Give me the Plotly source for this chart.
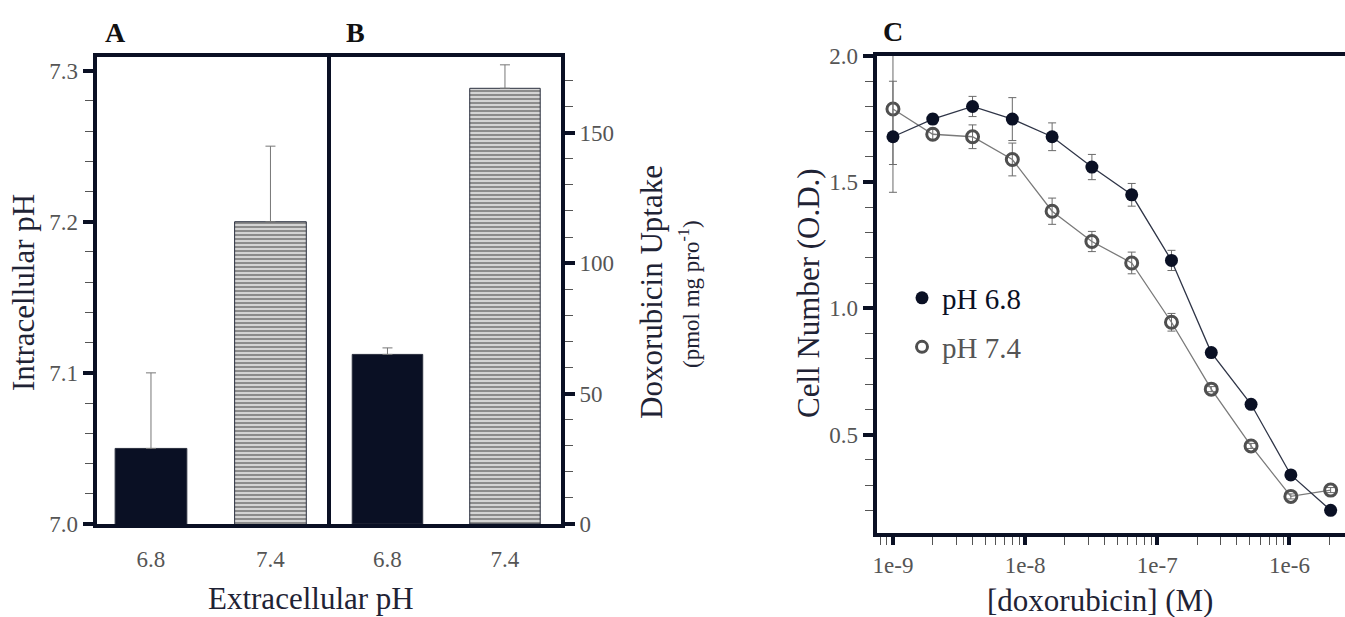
import plotly.graph_objects as go

# ---------------- data ----------------
ph_categories = ["6.8", "7.4"]
intracellular_ph = [7.05, 7.20]
intracellular_ph_err = [0.05, 0.05]
dox_uptake = [65, 167]
dox_uptake_err = [2.5, 9]

dox_conc = [1e-9, 2e-9, 4e-9, 8e-9, 1.6e-8, 3.2e-8, 6.4e-8, 1.28e-7,
            2.56e-7, 5.12e-7, 1.024e-6, 2.048e-6]
cells_ph68 = [1.68, 1.75, 1.80, 1.75, 1.68, 1.56, 1.45, 1.19, 0.825, 0.62, 0.34, 0.20]
cells_ph68_err = [0.22, 0.02, 0.04, 0.085, 0.055, 0.05, 0.045, 0.04, 0.015, 0.01, 0.01, 0.01]
cells_ph74 = [1.79, 1.69, 1.68, 1.59, 1.385, 1.265, 1.18, 0.945, 0.68, 0.455, 0.255, 0.28]
cells_ph74_err = [0.22, 0.02, 0.047, 0.065, 0.052, 0.04, 0.043, 0.035, 0.01, 0.01, 0.01, 0.01]

x_tick_vals = [1e-9, 1e-8, 1e-7, 1e-6]
x_tick_text = ["1e-9", "1e-8", "1e-7", "1e-6"]

# ---------------- style ----------------
W, H = 1345, 617
NAVY = "#0a1024"
TICKC = "#555555"
TITLEC = "#1f2335"
FONT = "Liberation Serif"
cat_pos = list(range(len(ph_categories)))


def px(x):
    return x / W


def py(y):
    return 1 - y / H


fig = go.Figure()

bar_marker = dict(
    color=[NAVY, "#d4d4d4"],
    line=dict(color="#2a2f3e", width=1),
    pattern=dict(shape=["", "-"], fgcolor="#2e3445", bgcolor="#d4d4d4",
                 size=4, solidity=0.5),
)

fig.add_trace(go.Bar(
    x=cat_pos, y=intracellular_ph, width=0.6, marker=bar_marker,
    error_y=dict(type="data", array=intracellular_ph_err, arrayminus=[0, 0],
                 color="#777777", thickness=1, width=5),
    xaxis="x", yaxis="y", showlegend=False))

fig.add_trace(go.Bar(
    x=cat_pos, y=dox_uptake, width=0.6, marker=bar_marker,
    error_y=dict(type="data", array=dox_uptake_err, arrayminus=[0, 0],
                 color="#777777", thickness=1, width=5),
    xaxis="x2", yaxis="y2", showlegend=False))

# panel C lines
fig.add_trace(go.Scatter(
    x=dox_conc, y=cells_ph74, mode="lines+markers",
    line=dict(color="#7a7a7a", width=1.3),
    marker=dict(symbol="circle-open", size=12, color="#4f4f4f", line=dict(width=3, color="#4f4f4f")),
    error_y=dict(type="data", array=cells_ph74_err, color="#6a6a6a", thickness=1, width=4),
    xaxis="x3", yaxis="y3", showlegend=False))
fig.add_trace(go.Scatter(
    x=dox_conc, y=cells_ph68, mode="lines+markers",
    line=dict(color="#2f3547", width=1.3),
    marker=dict(symbol="circle", size=13, color=NAVY),
    error_y=dict(type="data", array=cells_ph68_err, color="#6a6a6a", thickness=1, width=4),
    xaxis="x3", yaxis="y3", showlegend=False))

# legend-only entries
fig.add_trace(go.Scatter(
    x=[None], y=[None], mode="markers", name="pH 6.8",
    marker=dict(symbol="circle", size=13, color=NAVY),
    xaxis="x3", yaxis="y3", legend="legend"))
fig.add_trace(go.Scatter(
    x=[None], y=[None], mode="markers", name="pH 7.4",
    marker=dict(symbol="circle-open", size=11, color="#4f4f4f", line=dict(width=3, color="#4f4f4f")),
    xaxis="x3", yaxis="y3", legend="legend2"))

tickfont = dict(family=FONT, size=23, color=TICKC)
common_line = dict(showline=True, linecolor=NAVY, linewidth=4, zeroline=False,
                   showgrid=False, mirror=True, automargin=False)

A_left, A_right = 96.5, 326.5
B_left, B_right = 330.5, 561
AB_top, AB_bot = 57, 524
C_left, C_right = 876.7, 1345
C_top, C_bot = 56, 533

fig.update_layout(
    width=W, height=H, autosize=False,
    margin=dict(l=0, r=0, t=0, b=0, pad=0, autoexpand=False),
    paper_bgcolor="white", plot_bgcolor="white",
    font=dict(family=FONT, color=TITLEC),
    xaxis=dict(domain=[px(A_left), px(A_right)], range=[-0.456, 1.469],
               tickvals=cat_pos, ticktext=ph_categories, ticks="",
               tickfont=tickfont, ticklabelstandoff=11, anchor="y",
               **common_line),
    yaxis=dict(domain=[py(AB_bot), py(AB_top)], range=[7.0, 7.309],
               tick0=7.0, dtick=0.1, tickformat=".1f", ticks="outside",
               ticklen=10, tickwidth=4, tickcolor=NAVY, tickfont=tickfont,
               minor=dict(ticks="outside", dtick=0.02, tick0=7.0, ticklen=8,
                          tickwidth=1, tickcolor=TICKC),
               anchor="x", **common_line),
    xaxis2=dict(domain=[px(B_left), px(B_right)], range=[-0.485, 1.477],
                tickvals=cat_pos, ticktext=ph_categories, ticks="",
                tickfont=tickfont, ticklabelstandoff=11, anchor="y2",
                **common_line),
    yaxis2=dict(domain=[py(AB_bot), py(AB_top)], range=[0, 179], side="right",
                tick0=0, dtick=50, ticks="outside", ticklen=10, tickwidth=4,
                tickcolor=NAVY, tickfont=tickfont,
                minor=dict(ticks="outside", dtick=10, tick0=0, ticklen=8,
                           tickwidth=1, tickcolor=TICKC),
                anchor="x2", **common_line),
    xaxis3=dict(domain=[px(C_left), px(C_right)], type="log",
                range=[-9.123, -5.58], tickmode="array", tickvals=x_tick_vals,
                ticktext=x_tick_text, ticks="outside", ticklen=8, tickwidth=4,
                tickcolor=NAVY, tickfont=tickfont,
                minor=dict(ticks="outside", ticklen=8, tickwidth=1, tickcolor=TICKC,
                           tickmode="array",
                           tickvals=[m * 10.0 ** e for e in range(-10, -5) for m in range(2, 10)]),
                showline=True, linecolor=NAVY, linewidth=4, mirror=True,
                showgrid=False, zeroline=False, anchor="y3", automargin=False),
    yaxis3=dict(domain=[py(C_bot), py(C_top)], range=[0.11, 2.0],
                tickmode="array", tickvals=[0.5, 1.0, 1.5, 2.0], tickformat=".1f",
                ticks="outside", ticklen=10, tickwidth=4, tickcolor=NAVY,
                tickfont=tickfont,
                minor=dict(ticks="outside", dtick=0.1, tick0=0, ticklen=8,
                           tickwidth=1, tickcolor=TICKC),
                showline=True, linecolor=NAVY, linewidth=4, mirror=False,
                showgrid=False, zeroline=False, anchor="x3", automargin=False),
    legend=dict(x=px(902), y=py(298), xanchor="left", yanchor="middle",
                bgcolor="rgba(0,0,0,0)", borderwidth=0,
                font=dict(family=FONT, size=29, color=NAVY)),
    legend2=dict(x=px(902), y=py(347), xanchor="left", yanchor="middle",
                 bgcolor="rgba(0,0,0,0)", borderwidth=0,
                 font=dict(family=FONT, size=29, color="#555555")),
)

annots = [
    ("Intracellular pH", 23, 293, 31, -90, TITLEC),
    ("Extracellular pH", 311, 598, 31, 0, TITLEC),
    ("Doxorubicin Uptake", 651, 292, 31, -90, TITLEC),
    ("(pmol mg pro<sup>-1</sup>)", 689, 294, 23, -90, TITLEC),
    ("Cell Number (O.D.)", 808, 293, 31, -90, TITLEC),
    ("[doxorubicin] (M)", 1100, 600, 31, 0, TITLEC),
    ("<b>A</b>", 115, 32, 28, 0, "#111111"),
    ("<b>B</b>", 355, 32, 28, 0, "#111111"),
    ("<b>C</b>", 893, 31, 28, 0, "#111111"),
]
for text, x, y, size, ang, col in annots:
    fig.add_annotation(text=text, x=px(x), y=py(y), xref="paper", yref="paper",
                       xanchor="center", yanchor="middle", showarrow=False,
                       textangle=ang, font=dict(family=FONT, size=size, color=col))

fig.write_html("out.html")
